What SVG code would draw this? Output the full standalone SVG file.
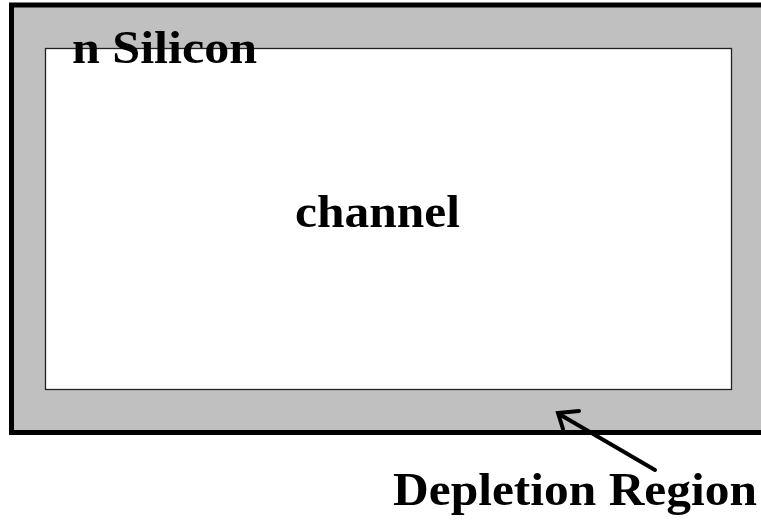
<svg xmlns="http://www.w3.org/2000/svg" width="761" height="520" viewBox="0 0 761 520">
<style>
.lbl{font-family:"Liberation Serif","Times New Roman",serif;font-weight:bold;font-size:47px;fill:#000}
</style>
<rect width="761" height="520" fill="#fff"/>
<g id="silicon">
<rect x="11.5" y="5" width="760" height="427.5" fill="#c0c0c0" stroke="#000" stroke-width="5"/>
</g>
<g id="channel">
<rect x="45.5" y="48.5" width="686" height="341" fill="#fff" stroke="#222" stroke-width="1.3"/>
<text class="lbl" x="295" y="227" textLength="165" lengthAdjust="spacingAndGlyphs">channel</text>
</g>
<text class="lbl" x="72" y="63" textLength="185" lengthAdjust="spacingAndGlyphs">n Silicon</text>
<g id="connectors" stroke="#000" stroke-width="4" fill="none" stroke-linecap="round">
<line x1="655" y1="470" x2="559" y2="414"/>
<polyline points="579,411 558,413 563,429" stroke-linejoin="miter"/>
</g>
<text class="lbl" x="393" y="505" textLength="364" lengthAdjust="spacingAndGlyphs">Depletion Region</text>
</svg>
